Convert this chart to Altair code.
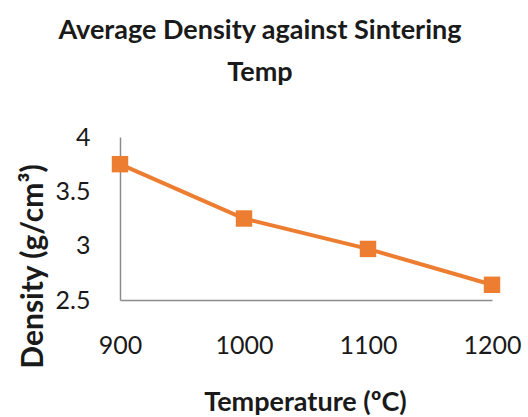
import altair as alt
import pandas as pd

# Average density measured at each sintering temperature
temperature = [900, 1000, 1100, 1200]
density = [3.75, 3.25, 2.97, 2.64]
y_ticks = [2.5, 3, 3.5, 4]

df = pd.DataFrame({"Temperature": temperature, "Density": density})

FONT = "Lato"
ORANGE = "#ED7D31"
AXIS_GREY = "#8c8c8c"
TEXT = "#1a1a1a"

base = alt.Chart(df).encode(
    x=alt.X(
        "Temperature:Q",
        scale=alt.Scale(domain=[900, 1200], nice=False, zero=False),
        axis=alt.Axis(
            values=temperature,
            labelExpr="'' + datum.value",
            title="Temperature (ºC)",
            grid=False,
            ticks=False,
            domainColor=AXIS_GREY,
            domainWidth=1.5,
            labelFont=FONT,
            labelFontSize=25,
            labelColor=TEXT,
            labelPadding=33,
            labelFlush=False,
            titleFont=FONT,
            titleFontSize=27,
            titleFontWeight="bold",
            titleColor=TEXT,
            titleX=185,
            titleY=110,
            titleBaseline="alphabetic",
        ),
    ),
    y=alt.Y(
        "Density:Q",
        scale=alt.Scale(domain=[2.5, 4], nice=False, zero=False),
        axis=alt.Axis(
            values=y_ticks,
            labelExpr="'' + datum.value",
            title="Density (g/cm³)",
            grid=False,
            ticks=False,
            domainColor=AXIS_GREY,
            domainWidth=1.5,
            labelFont=FONT,
            labelFontSize=25,
            labelColor=TEXT,
            labelPadding=30,
            labelFlush=False,
            titleFont=FONT,
            titleFontSize=30,
            titleFontWeight="bold",
            titleColor=TEXT,
            titleAngle=270,
            titleX=-78,
            titleY=129,
            titleBaseline="alphabetic",
            titleAlign="center",
        ),
    ),
)

line = base.mark_line(color=ORANGE, strokeWidth=4)
points = base.mark_point(shape="square", filled=True, size=270, color=ORANGE, opacity=1)

chart = (
    (line + points)
    .properties(
        width=372,
        height=163,
        background="white",
        title=alt.TitleParams(
            text=["Average Density against Sintering", "Temp"],
            font=FONT,
            fontSize=27,
            fontWeight="bold",
            color=TEXT,
            anchor="middle",
            dx=-46,
            offset=38,
            lineHeight=42,
        ),
        autosize=alt.AutoSizeParams(type="none"),
        padding={"left": 120, "top": 137, "right": 36, "bottom": 117},
    )
    .configure_view(strokeWidth=0)
)

chart.save("out.html", embed_options={"renderer": "svg", "actions": False})
